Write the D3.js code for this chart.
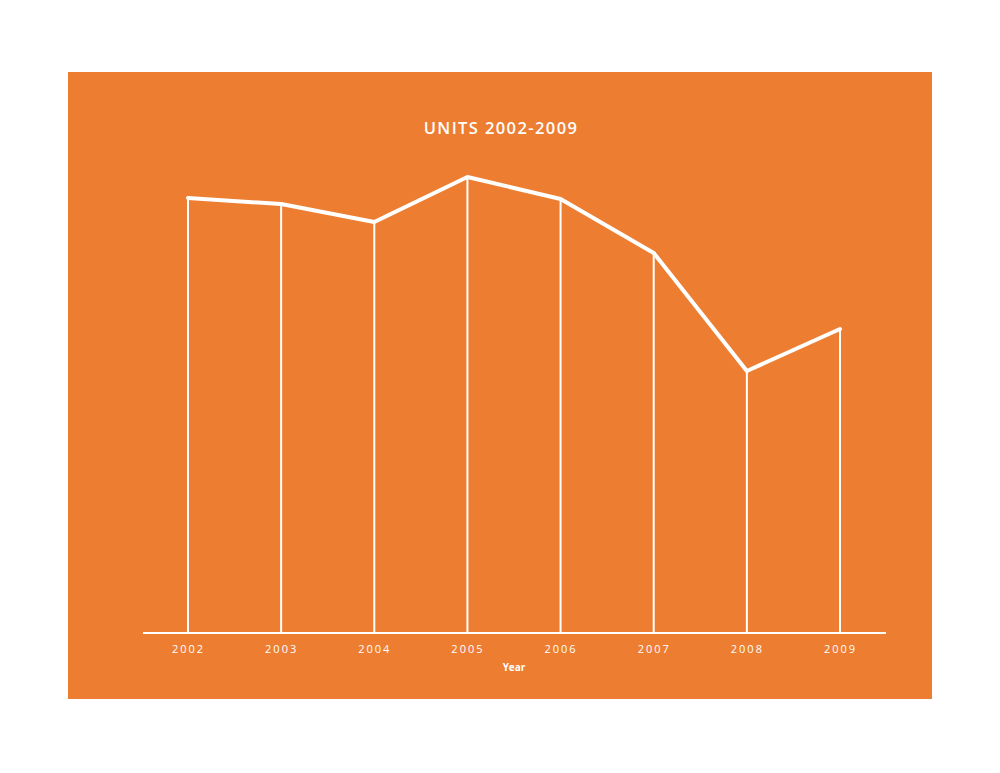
<!DOCTYPE html>
<html><head><meta charset="utf-8">
<script src="https://cdn.jsdelivr.net/npm/d3@7"></script>
<style>body{margin:0;background:#fff;} svg{display:block;}</style>
</head><body>
<script>
const years = ["2002","2003","2004","2005","2006","2007","2008","2009"];
const units = [435, 429, 411, 456, 434, 380, 262, 304];
const title = "UNITS 2002-2009";
const xTitle = "Year";

const W = 1000, H = 773;
const svg = d3.select("body").append("svg").attr("width", W).attr("height", H);
svg.append("rect").attr("x", 68).attr("y", 72).attr("width", 864).attr("height", 627).attr("fill", "#ED7D31");

const x = d3.scalePoint().domain(years).range([188, 840]);
const y = d3.scaleLinear().domain([0, 500]).range([633, 133]);

const data = years.map((d, i) => ({year: d, v: units[i]}));

svg.selectAll("line.drop").data(data).enter().append("line")
  .attr("x1", d => x(d.year)).attr("x2", d => x(d.year))
  .attr("y1", y(0)).attr("y2", d => y(d.v))
  .attr("stroke", "#fff").attr("stroke-width", 2);

const axis = d3.axisBottom(x).tickSize(0).tickPadding(12);
const gx = svg.append("g").attr("transform", `translate(0,${y(0)})`).call(axis);
gx.select(".domain").remove();
gx.selectAll("text").attr("fill", "#fff").attr("font-family", "'Open Sans', sans-serif")
  .attr("font-size", 11).attr("letter-spacing", "2px");
svg.append("line").attr("x1", 143).attr("x2", 886).attr("y1", y(0)).attr("y2", y(0))
  .attr("stroke", "#fff").attr("stroke-width", 2);

svg.append("path").datum(data)
  .attr("d", d3.line().x(d => x(d.year)).y(d => y(d.v)))
  .attr("fill", "none").attr("stroke", "#fff").attr("stroke-width", 4)
  .attr("stroke-linejoin", "round").attr("stroke-linecap", "round");

svg.append("text").attr("x", 501).attr("y", 134).attr("text-anchor", "middle")
  .attr("fill", "#fff").attr("font-family", "'Open Sans', sans-serif").attr("font-weight", 600)
  .attr("font-size", 16.5).attr("letter-spacing", "1.4px").text(title);

svg.append("text").attr("x", 514).attr("y", 671).attr("text-anchor", "middle")
  .attr("fill", "#fff").attr("font-family", "'Open Sans', sans-serif").attr("font-weight", 700)
  .attr("font-size", 10).text(xTitle);
</script>
</body></html>
